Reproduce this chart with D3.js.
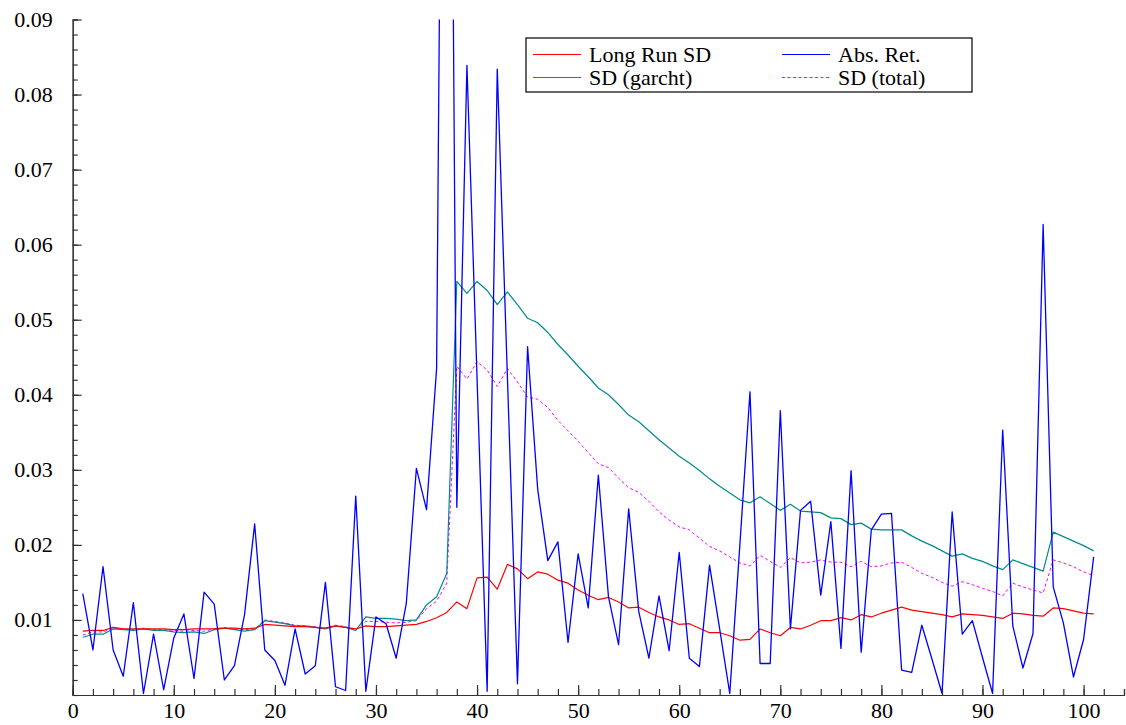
<!DOCTYPE html>
<html>
<head>
<meta charset="utf-8">
<script src="https://cdn.jsdelivr.net/npm/d3@7"></script>
<style>
  body { margin: 0; background: #fff; }
  svg { display: block; font-family: "Liberation Serif", "Times New Roman", serif; }
  .axis path, .axis line { stroke: #333; stroke-width: 1.2; }
  .axis text { font-size: 22px; fill: #000; font-family: "Liberation Serif", serif; }
  .legend text { font-size: 22px; }
</style>
</head>
<body>
<div id="chart"></div>
<script>
// x = observation number 1..101
var obs = d3.range(1, 102)

var absRet = [
  0.0135, 0.0060, 0.0171, 0.0060, 0.0025, 0.0123, 0.0002, 0.0081, 0.0007, 0.0076,
  0.0108, 0.0022, 0.0137, 0.0121, 0.0020, 0.0039, 0.0107, 0.0228, 0.0060, 0.0046,
  0.0013, 0.0088, 0.0028, 0.0039, 0.0150, 0.0011, 0.0006, 0.0265, 0.0005, 0.0104,
  0.0095, 0.0049, 0.0122, 0.0302, 0.0247, 0.0435, 0.2150, 0.0250, 0.0839, 0.0422,
  0.0005, 0.0834, 0.0425, 0.0015, 0.0464, 0.0274, 0.0179, 0.0204, 0.0070, 0.0188,
  0.0116, 0.0293, 0.0131, 0.0067, 0.0248, 0.0111, 0.0049, 0.0132, 0.0059, 0.0190,
  0.0049, 0.0038, 0.0173, 0.0088, 0.0002, 0.0200, 0.0404, 0.0042, 0.0042, 0.0379,
  0.0088, 0.0246, 0.0258, 0.0133, 0.0231, 0.0062, 0.0299, 0.0057, 0.0220, 0.0241,
  0.0242, 0.0033, 0.0030, 0.0093, 0.0048, 0.0002, 0.0244, 0.0081, 0.0099, 0.0050,
  0.0002, 0.0353, 0.0092, 0.0036, 0.0082, 0.0627, 0.0144, 0.0096, 0.0024, 0.0074,
  0.0184
]

var sdGarcht = [
  0.0077, 0.0081, 0.0081, 0.0088, 0.0087, 0.0086, 0.0088, 0.0086, 0.0086, 0.0084,
  0.0083, 0.0084, 0.0082, 0.0087, 0.0089, 0.0087, 0.0085, 0.0087, 0.0099, 0.0097,
  0.0095, 0.0092, 0.0092, 0.0090, 0.0088, 0.0092, 0.0090, 0.0086, 0.0104, 0.0102,
  0.0102, 0.0101, 0.0099, 0.0100, 0.0120, 0.0131, 0.0162, 0.0551, 0.0535, 0.0551,
  0.0539, 0.0520, 0.0537, 0.0520, 0.0502, 0.0496, 0.0483, 0.0467, 0.0453, 0.0438,
  0.0424, 0.0409, 0.0400, 0.0387, 0.0373, 0.0364, 0.0352, 0.0340, 0.0329, 0.0318,
  0.0309, 0.0299, 0.0288, 0.0278, 0.0269, 0.0260, 0.0256, 0.0264, 0.0255, 0.0246,
  0.0254, 0.0245, 0.0244, 0.0243, 0.0236, 0.0235, 0.0227, 0.0229, 0.0221, 0.0220,
  0.0220, 0.0220, 0.0212, 0.0205, 0.0199, 0.0192, 0.0185, 0.0188, 0.0182, 0.0178,
  0.0172, 0.0167, 0.0180, 0.0175, 0.0170, 0.0165, 0.0217, 0.0211, 0.0205, 0.0199,
  0.0192
]

var sdTotal = [
  0.0080, 0.0084, 0.0084, 0.0089, 0.0088, 0.0087, 0.0089, 0.0087, 0.0087, 0.0086,
  0.0085, 0.0086, 0.0085, 0.0088, 0.0090, 0.0088, 0.0087, 0.0088, 0.0100, 0.0098,
  0.0096, 0.0093, 0.0092, 0.0091, 0.0089, 0.0093, 0.0091, 0.0087, 0.0098, 0.0098,
  0.0097, 0.0096, 0.0097, 0.0099, 0.0115, 0.0125, 0.0149, 0.0438, 0.0421, 0.0444,
  0.0433, 0.0411, 0.0435, 0.0417, 0.0397, 0.0394, 0.0383, 0.0366, 0.0352, 0.0338,
  0.0323, 0.0308, 0.0303, 0.0289, 0.0276, 0.0270, 0.0258, 0.0244, 0.0233, 0.0224,
  0.0220, 0.0209, 0.0198, 0.0192, 0.0184, 0.0176, 0.0172, 0.0186, 0.0178, 0.0170,
  0.0183, 0.0176, 0.0177, 0.0180, 0.0177, 0.0177, 0.0171, 0.0178, 0.0171, 0.0172,
  0.0176, 0.0177, 0.0170, 0.0162, 0.0157, 0.0150, 0.0145, 0.0151, 0.0147, 0.0142,
  0.0138, 0.0132, 0.0149, 0.0144, 0.0140, 0.0136, 0.0180, 0.0176, 0.0171, 0.0164,
  0.0159
]

var longRunSd = [
  0.0085, 0.0086, 0.0086, 0.0090, 0.0088, 0.0088, 0.0088, 0.0088, 0.0088, 0.0087,
  0.0087, 0.0088, 0.0088, 0.0088, 0.0089, 0.0089, 0.0088, 0.0089, 0.0094, 0.0093,
  0.0092, 0.0091, 0.0091, 0.0090, 0.0089, 0.0092, 0.0090, 0.0088, 0.0092, 0.0091,
  0.0091, 0.0092, 0.0093, 0.0094, 0.0098, 0.0103, 0.0110, 0.0124, 0.0115, 0.0156,
  0.0157, 0.0141, 0.0174, 0.0168, 0.0155, 0.0164, 0.0161, 0.0153, 0.0149, 0.0140,
  0.0133, 0.0127, 0.0130, 0.0124, 0.0116, 0.0117, 0.0110, 0.0104, 0.0100, 0.0094,
  0.0095, 0.0089, 0.0083, 0.0083, 0.0079, 0.0073, 0.0074, 0.0088, 0.0083, 0.0079,
  0.0090, 0.0088, 0.0093, 0.0099, 0.0099, 0.0103, 0.0100, 0.0107, 0.0104, 0.0109,
  0.0113, 0.0117, 0.0113, 0.0111, 0.0109, 0.0107, 0.0104, 0.0108, 0.0107, 0.0106,
  0.0104, 0.0102, 0.0109, 0.0108, 0.0106, 0.0105, 0.0116, 0.0115, 0.0112, 0.0109,
  0.0108
]

var xMajor = d3.range(0, 101, 10)
var xMinor = d3.range(0, 105, 2)
var yMajor = d3.range(1, 10).map(d => d / 100)
var yMinor = d3.range(0, 46).map(d => d * 0.002)

var series = [
  {name: "SD (total)",   values: sdTotal,   color: "#ff00ff", dash: "3,2.5", width: 1},
  {name: "SD (garcht)",  values: sdGarcht,  color: "#008b8b", dash: null,    width: 1.2},
  {name: "Long Run SD",  values: longRunSd, color: "#ff0000", dash: null,    width: 1.2},
  {name: "Abs. Ret.",    values: absRet,    color: "#0000ff", dash: null,    width: 1.3}
]

var legendOrder = ["Long Run SD", "Abs. Ret.", "SD (garcht)", "SD (total)"]

var width = 1126
var height = 725
// note: "top" is reserved on window, so use plot* names
var plotLeft = 72.7, plotRight = 1124, plotTop = 19.5, plotBottom = 695

var x = d3.scaleLinear().domain([0, 104]).range([plotLeft, plotRight])
var y = d3.scaleLinear().domain([0, 0.09]).range([plotBottom, plotTop])

var svg = d3.select("#chart")
          .append("svg")
            .attr("width", width)
            .attr("height", height)

svg.append("clipPath")
    .attr("id", "plot-clip")
  .append("rect")
    .attr("x", plotLeft)
    .attr("y", plotTop)
    .attr("width", plotRight - plotLeft + 2)
    .attr("height", plotBottom - plotTop)

// Lines
var line = d3.line()
              .x((d, i) => x(obs[i]))
              .y(d => y(d))

svg.append("g")
    .attr("clip-path", "url(#plot-clip)")
  .selectAll("path.series")
  .data(series).enter()
  .append("path")
    .attr("class", "series")
    .attr("d", d => line(d.values))
    .attr("fill", "none")
    .attr("stroke", d => d.color)
    .attr("stroke-width", d => d.width)
    .attr("stroke-dasharray", d => d.dash)
    .attr("stroke-linejoin", "round")

// Axes: ticks point inward
svg.append("g")
    .attr("class", "axis")
    .attr("transform", "translate(0," + plotBottom + ")")
    .call(d3.axisBottom(x).tickValues(xMinor).tickSize(-6).tickFormat(""))
svg.append("g")
    .attr("class", "axis")
    .attr("transform", "translate(0," + plotBottom + ")")
    .call(d3.axisBottom(x).tickValues(xMajor).tickSizeInner(-10).tickSizeOuter(0).tickPadding(7).tickFormat(d3.format("d")))

svg.append("g")
    .attr("class", "axis")
    .attr("transform", "translate(" + plotLeft + ",0)")
    .call(d3.axisLeft(y).tickValues(yMinor).tickSize(-5).tickFormat(""))
svg.append("g")
    .attr("class", "axis")
    .attr("transform", "translate(" + plotLeft + ",0)")
    .call(d3.axisLeft(y).tickValues(yMajor).tickSizeInner(-9).tickSizeOuter(0).tickPadding(20).tickFormat(d3.format(".2f")))

// Legend
var legend = svg.append("g").attr("class", "legend")
legend.append("rect")
    .attr("x", 526).attr("y", 38)
    .attr("width", 446).attr("height", 54)
    .attr("fill", "#fff")
    .attr("stroke", "#000")
    .attr("stroke-width", 1.2)

legendOrder.forEach((name, k) => {
  var s = series.find(d => d.name === name)
  var lx = k % 2 === 0 ? 533 : 782
  var ly = k < 2 ? 54.5 : 77.5
  legend.append("line")
      .attr("x1", lx).attr("x2", lx + 48)
      .attr("y1", ly).attr("y2", ly)
      .attr("stroke", s.color)
      .attr("stroke-width", 1.2)
      .attr("stroke-dasharray", s.dash)
  legend.append("text")
      .attr("x", lx + 56)
      .attr("y", ly + 7.5)
      .text(name)
})
</script>
</body>
</html>
